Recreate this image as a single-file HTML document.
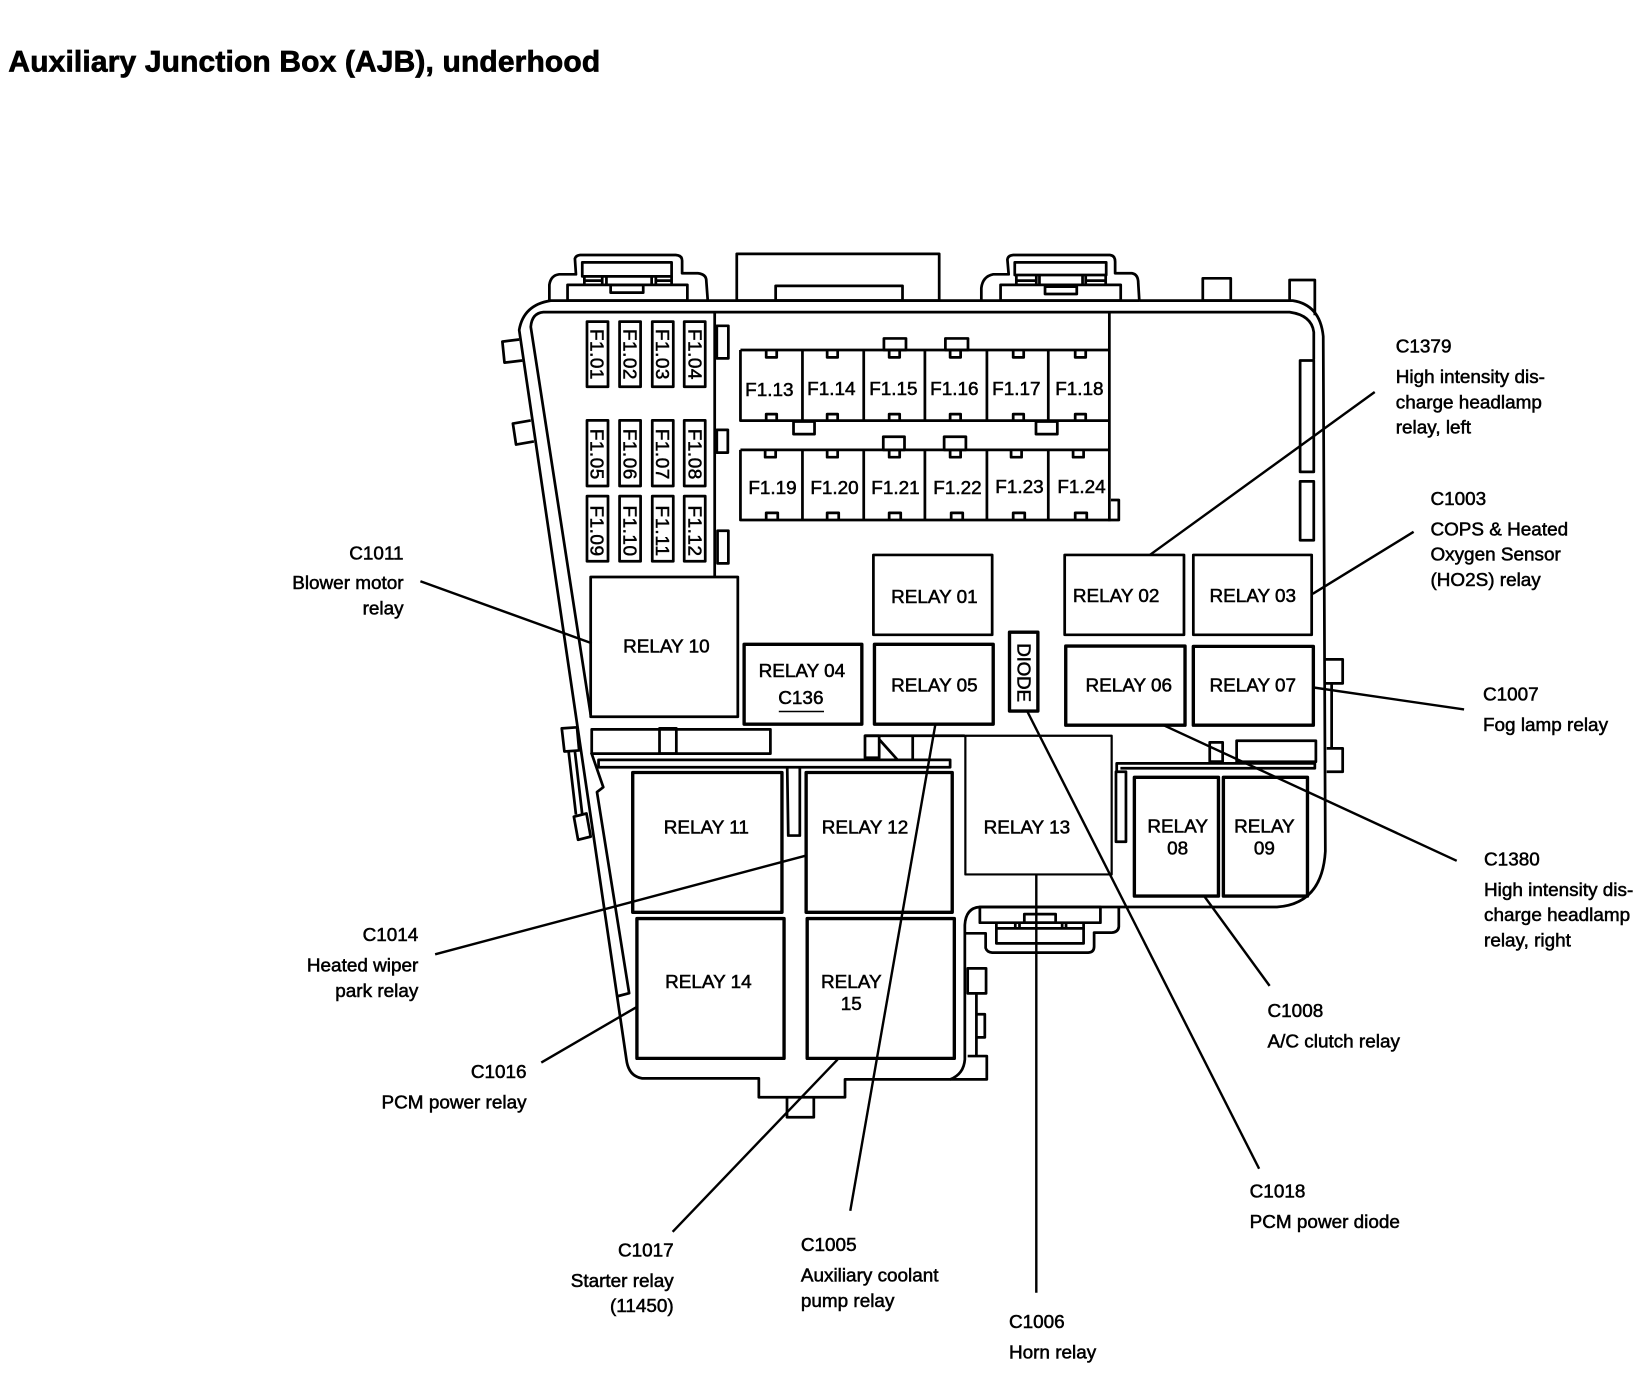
<!DOCTYPE html>
<html><head><meta charset="utf-8"><title>Auxiliary Junction Box (AJB), underhood</title>
<style>
html,body{margin:0;padding:0;background:#fff;width:1648px;height:1376px;overflow:hidden}
svg{display:block}
text{font-family:"Liberation Sans",sans-serif;font-size:18px;fill:#000;stroke:#000;stroke-width:.5px}
.s{fill:none;stroke:#000;stroke-width:2.6;stroke-linejoin:round}
.t{stroke-width:2.1}
.b{stroke-width:3.2}
.m{text-anchor:middle}
.e{text-anchor:end}
.l{fill:none;stroke:#000;stroke-width:2.3}
</style></head><body>
<svg width="1648" height="1376" viewBox="0 0 1568 1309.2" xmlns="http://www.w3.org/2000/svg">
<text x="8" y="68" style="font-size:28.5px;font-weight:bold;stroke-width:.7px" textLength="563">Auxiliary Junction Box (AJB), underhood</text>

<g class="s">
<!-- body outer -->
<path class="s" d="M1084 286 H1230 Q1256 290 1259 320 L1261 810 Q1258 860 1215 863 H932 Q919 864 918 880 L918 1008 Q917 1022 904 1027 H804 V1044 H722 V1026 H611 Q598 1024 596 1008 L494 314 Q498 290 524 286 H1084"/>
<!-- body inner top -->
<path class="s" d="M562 680 L505 311 Q506 298 517 297 H1227 Q1248 300 1250 316 V342"/>
<path class="s" d="M680 297 V549 M1055.5 297 V496"/>
<!-- right slim rects -->
<rect class="s" x="1237" y="343" width="13" height="106"/>
<rect class="s" x="1237" y="458" width="13" height="56"/>
<!-- top connector 1 -->
<path class="s" d="M522.7 286 V271 Q524 262 532 261 H548 L547 246 Q548 243 552 242.6 H643 Q649 243 649 248 V260 H664 Q672 261 672 267 L673.4 286"/>
<rect class="s" x="554" y="249.6" width="85" height="13.4"/>
<rect class="s" x="540" y="271" width="114" height="15"/>
<rect class="s" x="581" y="271" width="31" height="7.4"/>
<path class="s" d="M556 263 V271 M573 263 V271 M577 263 V271 M620 263 V271 M624 263 V271 M639 263 V271 M556 267 H573 M624 267 H639"/>
<!-- center top -->
<rect class="s" x="701" y="241.6" width="192.6" height="44.4"/>
<rect class="s" x="738" y="272" width="120.7" height="14"/>
<!-- top connector 2 -->
<path class="s" d="M933.7 286 V274 Q935 263 945 261 H959.7 L958.5 247 Q959 243 964 242.6 H1056 Q1061 243 1061 249 V260 H1077 Q1083 261 1083 269.5 L1084 286"/>
<rect class="s" x="965.5" y="249.6" width="87" height="12"/>
<rect class="s" x="952" y="271" width="114.3" height="15"/>
<rect class="s" x="994.3" y="272.7" width="30.2" height="7"/>
<path class="s" d="M967 262 V271 M986 262 V271 M989 262 V271 M1030 262 V271 M1033 262 V271 M1052 262 V271 M967 267 H986 M1033 267 H1052"/>
<!-- top right tabs -->
<rect class="s" x="1144.4" y="264.8" width="26.6" height="21.2"/>
<path class="s" d="M1227 286 V266.4 H1251 V300"/>
<!-- left tabs -->
<path class="s" d="M494 323 L478 325 L480 345 L497 343"/>
<path class="s" d="M505 400 L488 403 L491 423 L508 420"/>
<!-- fuse panel side tabs -->
<rect class="s" x="682" y="310" width="11" height="31"/>
<rect class="s" x="682" y="409" width="10.5" height="21.7"/>
<rect class="s" x="682.7" y="505" width="10.3" height="31"/>
<!-- small fuses -->
<rect x="558.5" y="306" width="20" height="62"/><rect x="589.5" y="306" width="20" height="62"/><rect x="620.6" y="306" width="20" height="62"/><rect x="651" y="306" width="20" height="62"/>
<rect x="558.5" y="400" width="20" height="62.4"/><rect x="589.5" y="400" width="20" height="62.4"/><rect x="620.6" y="400" width="20" height="62.4"/><rect x="651" y="400" width="20" height="62.4"/>
<rect x="558.5" y="472" width="20" height="62"/><rect x="589.5" y="472" width="20" height="62"/><rect x="620.6" y="472" width="20" height="62"/><rect x="651" y="472" width="20" height="62"/>
<!-- fuse blocks -->
<path class="s" d="M704.5 333 H1055.5 M704.5 333 V400.2 H1055.5 M763.5 333 V400 M821.8 333 V400 M880 333 V400 M939 333 V400 M997.4 333 V400"/>
<path class="s" d="M704.5 428 H1055.5 M704.5 428 V494.8 H1064.5 V475.7 H1057 M763.5 428 V494 M821.8 428 V494 M880 428 V494 M939 428 V494 M997.4 428 V494"/>
<!-- tabs on fuse blocks -->
<path class="s" d="M729 334 V340 H739 V334 M787 334 V340 H797 V334 M846 334 V340 H856 V334 M904 334 V340 H914 V334 M964 334 V340 H974 V334 M1023 334 V340 H1033 V334"/>
<path class="s" d="M729 400 V394 H739 V400 M787 400 V394 H797 V400 M846 400 V394 H856 V400 M904 400 V394 H914 V400 M964 400 V394 H974 V400 M1023 400 V394 H1033 V400"/>
<path class="s" d="M728 429 V435 H738 V429 M787 429 V435 H797 V429 M846 429 V435 H856 V429 M904 429 V435 H914 V429 M962 429 V435 H972 V429 M1021 429 V435 H1031 V429"/>
<path class="s" d="M729 494 V488 H740 V494 M787 494 V488 H798 V494 M846 494 V488 H857 V494 M905 494 V488 H916 V494 M964 494 V488 H975 V494 M1023 494 V488 H1034 V494"/>
<rect class="s" x="841" y="322" width="21" height="11"/><rect class="s" x="899.5" y="322" width="21.5" height="11"/>
<rect class="s" x="755" y="401" width="20" height="12"/><rect class="s" x="985.7" y="401" width="20.3" height="12"/>
<rect class="s" x="840.4" y="415.5" width="20.2" height="12.5"/><rect class="s" x="898.3" y="415.5" width="20.7" height="12.5"/>
<!-- relays -->
<rect class="s" x="831" y="528" width="113" height="76"/>
<rect class="s" x="1013" y="528" width="113.5" height="76"/>
<rect class="s" x="1135.4" y="528" width="112.6" height="76"/>
<rect class="s b" x="832" y="613" width="113" height="76"/>
<rect class="s b" x="708" y="613" width="112" height="76"/>
<rect class="s b" x="1014" y="614.7" width="113.5" height="75.3"/>
<rect class="s b" x="1135.4" y="615" width="114.2" height="75"/>
<rect class="s" x="562" y="549" width="140" height="133"/>
<rect class="s b" x="602" y="735" width="142" height="133"/>
<rect class="s b" x="767" y="735" width="139" height="133"/>
<rect class="s t" x="918.5" y="700" width="139.2" height="132"/>
<rect class="s b" x="606" y="874" width="140" height="133"/>
<rect class="s b" x="768" y="874" width="140" height="133"/>
<rect class="s b" x="1079.3" y="739.6" width="80" height="113"/>
<rect class="s b" x="1164" y="739.6" width="80" height="113"/>
<rect class="s b" x="960.5" y="601.5" width="27" height="75"/>
<!-- strips under relay 10 -->
<rect class="s" x="563" y="694" width="170" height="23"/>
<rect class="s" x="627.5" y="693" width="16" height="24"/>
<rect class="s" x="569.5" y="723" width="334.5" height="7"/>
<path class="s" d="M749 730 L750 795 H761 V730"/>
<rect class="s" x="823" y="700" width="13.5" height="21"/>
<path class="s" d="M823 700 H918 M837 704 L854 723 M868.4 700 V723"/>
<!-- left-side lower walls -->
<path class="s" d="M562.6 716 L574 749 L568 753.6 L598.6 945 L587 948"/>
<path class="s" d="M534.5 693 L549 692 L551 714 L537 715 Z"/>
<path class="s" d="M541 715 L548 775 M547 715 L554 775"/>
<path class="s" d="M546 777 L558 774 L562 796 L550 799 Z"/>
<!-- right side pieces -->
<rect class="s" x="1151" y="706.3" width="12.3" height="18.4"/>
<rect class="s" x="1176.6" y="704.8" width="75.4" height="20"/>
<path class="s" d="M1062.5 735 V726.3 H1251 V731 H1066"/>
<rect class="s" x="1061.8" y="734.3" width="9.5" height="66.6"/>
<path class="s" d="M1261 627.4 H1277.5 V650.2 H1261 M1267 650 V712 M1262.3 712 H1277.5 V734.3 H1262.3"/>
<!-- bottom connector -->
<path class="s" d="M918 888 H937.8 V902 Q939 906 944 906.4 H1035.4 Q1041 906 1041 900.7 V887.4 H1057.2 Q1064 887 1064.5 881.7 V863"/>
<rect class="s" x="932.3" y="863" width="114.7" height="14.9"/>
<rect class="s" x="974.6" y="869.7" width="29.8" height="8.2"/>
<rect class="s" x="948" y="883.3" width="83" height="14.3"/>
<path class="s" d="M948 878 V884 M966 878 V884 M970 878 V884 M1010.6 878 V884 M1014.3 878 V884 M1031 878 V884"/>
<!-- lower right tabs -->
<rect class="s" x="920.7" y="921.4" width="17.5" height="23.7"/>
<path class="s" d="M929 945 V1005 M929 965 H937 V987 H929"/>
<path class="s" d="M920.7 1004.8 H938.9 V1027 H904"/>
<path class="s" d="M748.8 1044 V1063 H774.3 V1044"/>
</g>

<!-- leader lines -->
<g class="l">
<path d="M1308 373 L1094 528"/>
<path d="M1345 506 L1249 565"/>
<path d="M400 553 L563 612"/>
<path d="M1393 675 L1249 654"/>
<path d="M1386 819 L1107 690"/>
<path d="M414 908 L767 814"/>
<path d="M515 1011 L606 958"/>
<path d="M1208 938 L1146 853"/>
<path d="M640 1172 L797 1008"/>
<path d="M809 1152 L890 689"/>
<path d="M986 832 V1230"/>
<path d="M1198 1112 L977 676"/>
</g>

<!-- vertical fuse labels -->
<g>
<text transform="translate(562,313) rotate(90)" textLength="48">F1.01</text>
<text transform="translate(593,313) rotate(90)" textLength="48">F1.02</text>
<text transform="translate(624,313) rotate(90)" textLength="48">F1.03</text>
<text transform="translate(655,313) rotate(90)" textLength="48">F1.04</text>
<text transform="translate(562,408) rotate(90)" textLength="48">F1.05</text>
<text transform="translate(593,408) rotate(90)" textLength="48">F1.06</text>
<text transform="translate(624,408) rotate(90)" textLength="48">F1.07</text>
<text transform="translate(655,408) rotate(90)" textLength="48">F1.08</text>
<text transform="translate(562,481) rotate(90)" textLength="48">F1.09</text>
<text transform="translate(593,481) rotate(90)" textLength="48">F1.10</text>
<text transform="translate(624,481) rotate(90)" textLength="48">F1.11</text>
<text transform="translate(655,481) rotate(90)" textLength="48">F1.12</text>
</g>
<!-- horizontal fuse labels -->
<g>
<text class="m" x="732" y="377">F1.13</text><text class="m" x="791" y="376">F1.14</text><text class="m" x="850" y="376">F1.15</text><text class="m" x="908" y="376">F1.16</text><text class="m" x="967" y="376">F1.17</text><text class="m" x="1027" y="376">F1.18</text>
<text class="m" x="735" y="470">F1.19</text><text class="m" x="794" y="470">F1.20</text><text class="m" x="852" y="470">F1.21</text><text class="m" x="911" y="470">F1.22</text><text class="m" x="970" y="469">F1.23</text><text class="m" x="1029" y="469">F1.24</text>
</g>
<!-- relay labels -->
<g>
<text class="m" x="889" y="573.5">RELAY 01</text>
<text class="m" x="1062" y="573">RELAY 02</text>
<text class="m" x="1192" y="573">RELAY 03</text>
<text class="m" x="763" y="644">RELAY 04</text>
<text class="m" x="762" y="670">C136</text>
<text class="m" x="889" y="658">RELAY 05</text>
<text class="m" x="1074" y="658">RELAY 06</text>
<text class="m" x="1192" y="658">RELAY 07</text>
<text class="m" x="1120.5" y="792">RELAY</text><text class="m" x="1120.5" y="813">08</text>
<text class="m" x="1203" y="792">RELAY</text><text class="m" x="1203" y="813">09</text>
<text class="m" x="634" y="621">RELAY 10</text>
<text class="m" x="672" y="793">RELAY 11</text>
<text class="m" x="823" y="793">RELAY 12</text>
<text class="m" x="977" y="793">RELAY 13</text>
<text class="m" x="674" y="940">RELAY 14</text>
<text class="m" x="810" y="940">RELAY</text><text class="m" x="810" y="961">15</text>
<text transform="translate(968,612) rotate(90)" textLength="56">DIODE</text>
</g>
<path d="M741 677 H784" stroke="#000" stroke-width="1.4" fill="none"/>
<!-- callouts -->
<g transform="translate(0,.5)">
<text x="1328" y="335">C1379</text><text x="1328" y="364">High intensity dis-</text><text x="1328" y="388">charge headlamp</text><text x="1328" y="412">relay, left</text>
<text x="1361" y="480">C1003</text><text x="1361" y="509">COPS &amp; Heated</text><text x="1361" y="533">Oxygen Sensor</text><text x="1361" y="557">(HO2S) relay</text>
<text class="e" x="384" y="532">C1011</text><text class="e" x="384" y="560">Blower motor</text><text class="e" x="384" y="584">relay</text>
<text x="1411" y="666">C1007</text><text x="1411" y="695">Fog lamp relay</text>
<text x="1412" y="823">C1380</text><text x="1412" y="852">High intensity dis-</text><text x="1412" y="876">charge headlamp</text><text x="1412" y="900">relay, right</text>
<text class="e" x="398" y="895">C1014</text><text class="e" x="398" y="924">Heated wiper</text><text class="e" x="398" y="948">park relay</text>
<text class="e" x="501" y="1025">C1016</text><text class="e" x="501" y="1054">PCM power relay</text>
<text x="1206" y="967">C1008</text><text x="1206" y="996">A/C clutch relay</text>
<text class="e" x="641" y="1195">C1017</text><text class="e" x="641" y="1224">Starter relay</text><text class="e" x="641" y="1248">(11450)</text>
<text x="762" y="1190">C1005</text><text x="762" y="1219">Auxiliary coolant</text><text x="762" y="1243">pump relay</text>
<text x="960" y="1263">C1006</text><text x="960" y="1292">Horn relay</text>
<text x="1189" y="1139">C1018</text><text x="1189" y="1168">PCM power diode</text>
</g>
</svg>
</body></html>
